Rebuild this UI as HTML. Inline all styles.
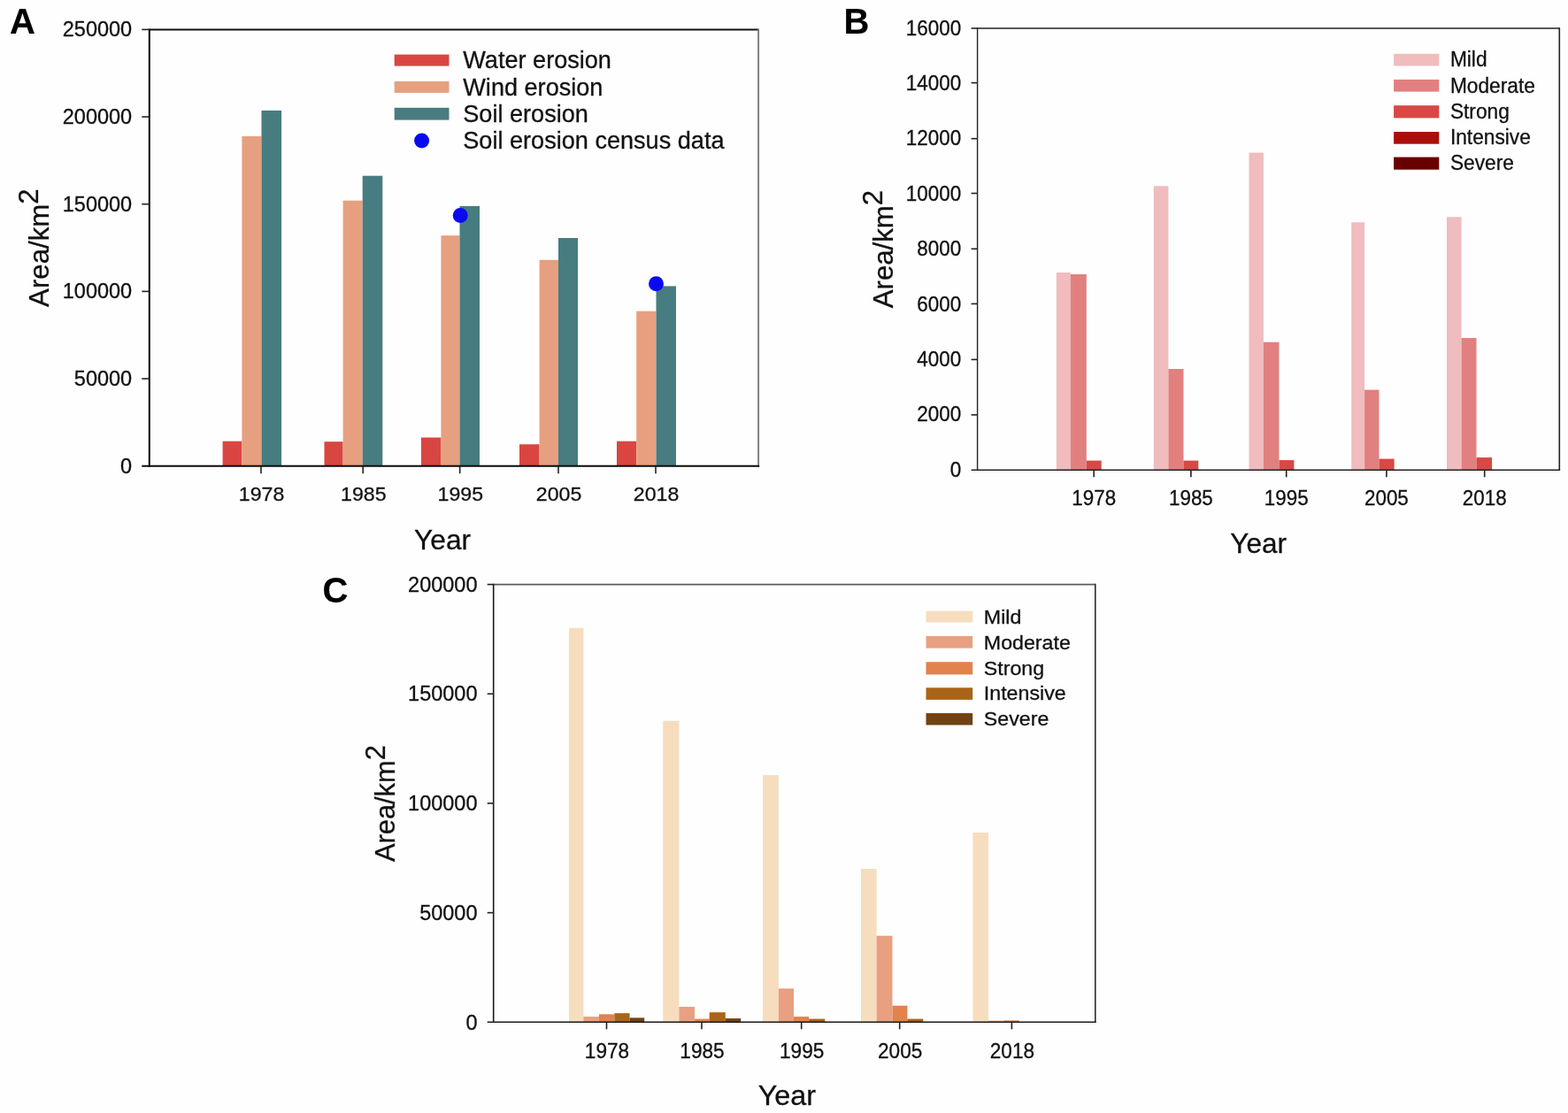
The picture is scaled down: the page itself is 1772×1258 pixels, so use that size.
<!DOCTYPE html>
<html lang="en"><head><meta charset="utf-8"><title>Soil erosion area by year</title>
<style>html,body{margin:0;padding:0;background:#fff;}body{width:1772px;height:1258px;overflow:hidden;}svg{display:block;filter:blur(0.45px);}svg text{font-family:'Liberation Sans', sans-serif;fill:#111;stroke:#111;stroke-width:0.3px;}</style></head><body>
<svg width="1772" height="1258" viewBox="0 0 1772 1258">
<rect x="0" y="0" width="1772" height="1258" fill="#fefefe"/>
<g id="panel-A">
<rect x="251.60" y="498.70" width="21.80" height="28.00" fill="#d94641"/>
<rect x="273.40" y="154.00" width="22.10" height="372.70" fill="#e6a080"/>
<rect x="295.50" y="124.90" width="22.60" height="401.80" fill="#477c80"/>
<rect x="366.50" y="499.20" width="21.10" height="27.50" fill="#d94641"/>
<rect x="387.60" y="226.70" width="22.10" height="300.00" fill="#e6a080"/>
<rect x="409.70" y="198.70" width="22.60" height="328.00" fill="#477c80"/>
<rect x="476.00" y="494.50" width="22.40" height="32.20" fill="#d94641"/>
<rect x="498.40" y="266.20" width="21.10" height="260.50" fill="#e6a080"/>
<rect x="519.50" y="232.90" width="22.50" height="293.80" fill="#477c80"/>
<rect x="587.00" y="502.20" width="22.60" height="24.50" fill="#d94641"/>
<rect x="609.60" y="293.80" width="21.40" height="232.90" fill="#e6a080"/>
<rect x="631.00" y="269.00" width="22.00" height="257.70" fill="#477c80"/>
<rect x="697.00" y="498.70" width="22.20" height="28.00" fill="#d94641"/>
<rect x="719.20" y="351.70" width="22.30" height="175.00" fill="#e6a080"/>
<rect x="741.50" y="323.40" width="22.50" height="203.30" fill="#477c80"/>
<circle cx="520.20" cy="243.40" r="8.5" fill="#0a0af0"/>
<circle cx="741.50" cy="320.70" r="8.5" fill="#0a0af0"/>
<line x1="168.80" y1="33.40" x2="857.10" y2="33.40" stroke="#111" stroke-width="2"/>
<line x1="857.10" y1="32.40" x2="857.10" y2="527.70" stroke="#808080" stroke-width="2"/>
<line x1="168.80" y1="32.40" x2="168.80" y2="527.70" stroke="#0a0a0a" stroke-width="2"/>
<line x1="160.30" y1="526.70" x2="858.10" y2="526.70" stroke="#0a0a0a" stroke-width="2"/>
<text x="149.20" y="534.50" font-size="23.5" text-anchor="end" font-weight="normal" >0</text>
<line x1="160.30" y1="428.04" x2="168.80" y2="428.04" stroke="#222" stroke-width="1.6"/>
<text x="149.20" y="435.84" font-size="23.5" text-anchor="end" font-weight="normal" >50000</text>
<line x1="160.30" y1="329.38" x2="168.80" y2="329.38" stroke="#222" stroke-width="1.6"/>
<text x="149.20" y="337.18" font-size="23.5" text-anchor="end" font-weight="normal" >100000</text>
<line x1="160.30" y1="230.72" x2="168.80" y2="230.72" stroke="#222" stroke-width="1.6"/>
<text x="149.20" y="238.52" font-size="23.5" text-anchor="end" font-weight="normal" >150000</text>
<line x1="160.30" y1="132.06" x2="168.80" y2="132.06" stroke="#222" stroke-width="1.6"/>
<text x="149.20" y="139.86" font-size="23.5" text-anchor="end" font-weight="normal" >200000</text>
<line x1="160.30" y1="33.40" x2="168.80" y2="33.40" stroke="#222" stroke-width="1.6"/>
<text x="149.20" y="41.20" font-size="23.5" text-anchor="end" font-weight="normal" >250000</text>
<line x1="295.00" y1="526.70" x2="295.00" y2="535.20" stroke="#222" stroke-width="1.6"/>
<text transform="translate(295.60,566.30) scale(1.02,1)" font-size="22.7" text-anchor="middle" font-weight="normal" >1978</text>
<line x1="410.20" y1="526.70" x2="410.20" y2="535.20" stroke="#222" stroke-width="1.6"/>
<text transform="translate(410.80,566.30) scale(1.02,1)" font-size="22.7" text-anchor="middle" font-weight="normal" >1985</text>
<line x1="519.70" y1="526.70" x2="519.70" y2="535.20" stroke="#222" stroke-width="1.6"/>
<text transform="translate(520.30,566.30) scale(1.02,1)" font-size="22.7" text-anchor="middle" font-weight="normal" >1995</text>
<line x1="631.00" y1="526.70" x2="631.00" y2="535.20" stroke="#222" stroke-width="1.6"/>
<text transform="translate(631.60,566.30) scale(1.02,1)" font-size="22.7" text-anchor="middle" font-weight="normal" >2005</text>
<line x1="741.00" y1="526.70" x2="741.00" y2="535.20" stroke="#222" stroke-width="1.6"/>
<text transform="translate(741.60,566.30) scale(1.02,1)" font-size="22.7" text-anchor="middle" font-weight="normal" >2018</text>
<rect x="445.70" y="61.60" width="61.80" height="13.00" fill="#d94641"/>
<text x="523.30" y="77.30" font-size="27.1" text-anchor="start" font-weight="normal" >Water erosion</text>
<rect x="445.70" y="91.90" width="61.80" height="13.00" fill="#e6a080"/>
<text x="523.30" y="107.60" font-size="27.1" text-anchor="start" font-weight="normal" >Wind erosion</text>
<rect x="445.70" y="121.80" width="61.80" height="13.80" fill="#477c80"/>
<text x="523.30" y="137.70" font-size="27.1" text-anchor="start" font-weight="normal" >Soil erosion</text>
<circle cx="476.60" cy="159.00" r="8.5" fill="#0a0af0"/>
<text x="523.30" y="167.90" font-size="27.1" text-anchor="start" font-weight="normal" >Soil erosion census data</text>
<text x="11.00" y="37.70" font-size="40" text-anchor="start" font-weight="bold" style="fill:#000;stroke:#000;stroke-width:0.15px">A</text>
<text transform="translate(54.90,346.90) rotate(-90)" font-size="31.2">Area/km<tspan dy="-11.7">2</tspan></text>
<text transform="translate(468.10,621.40) scale(1.015,1)" font-size="31.2" text-anchor="start" font-weight="normal" >Year</text>
</g>
<g id="panel-B">
<rect x="1193.80" y="308.00" width="16.10" height="223.30" fill="#f0bcbe"/>
<rect x="1209.90" y="310.00" width="17.90" height="221.30" fill="#e28080"/>
<rect x="1227.80" y="520.60" width="16.90" height="10.70" fill="#d94844"/>
<rect x="1303.80" y="210.30" width="16.60" height="321.00" fill="#f0bcbe"/>
<rect x="1320.40" y="417.00" width="17.10" height="114.30" fill="#e28080"/>
<rect x="1337.50" y="520.60" width="16.80" height="10.70" fill="#d94844"/>
<rect x="1411.50" y="172.60" width="16.40" height="358.70" fill="#f0bcbe"/>
<rect x="1427.90" y="386.70" width="17.60" height="144.60" fill="#e28080"/>
<rect x="1445.50" y="520.10" width="16.90" height="11.20" fill="#d94844"/>
<rect x="1527.20" y="251.30" width="14.90" height="280.00" fill="#f0bcbe"/>
<rect x="1542.10" y="440.60" width="16.40" height="90.70" fill="#e28080"/>
<rect x="1558.50" y="518.60" width="17.10" height="12.70" fill="#d94844"/>
<rect x="1635.00" y="245.30" width="16.60" height="286.00" fill="#f0bcbe"/>
<rect x="1651.60" y="382.00" width="16.90" height="149.30" fill="#e28080"/>
<rect x="1668.50" y="517.10" width="17.60" height="14.20" fill="#d94844"/>
<line x1="1104.60" y1="32.00" x2="1762.30" y2="32.00" stroke="#222" stroke-width="1.6"/>
<line x1="1762.30" y1="31.20" x2="1762.30" y2="532.10" stroke="#222" stroke-width="1.6"/>
<line x1="1104.60" y1="31.20" x2="1104.60" y2="532.10" stroke="#222" stroke-width="1.4"/>
<line x1="1097.60" y1="531.30" x2="1763.10" y2="531.30" stroke="#222" stroke-width="1.6"/>
<text transform="translate(1086.30,538.80) scale(0.965,1)" font-size="23.3" text-anchor="end" font-weight="normal" >0</text>
<line x1="1097.60" y1="468.90" x2="1104.60" y2="468.90" stroke="#222" stroke-width="1.6"/>
<text transform="translate(1086.30,476.39) scale(0.965,1)" font-size="23.3" text-anchor="end" font-weight="normal" >2000</text>
<line x1="1097.60" y1="406.40" x2="1104.60" y2="406.40" stroke="#222" stroke-width="1.6"/>
<text transform="translate(1086.30,413.97) scale(0.965,1)" font-size="23.3" text-anchor="end" font-weight="normal" >4000</text>
<line x1="1097.60" y1="343.40" x2="1104.60" y2="343.40" stroke="#222" stroke-width="1.6"/>
<text transform="translate(1086.30,351.56) scale(0.965,1)" font-size="23.3" text-anchor="end" font-weight="normal" >6000</text>
<line x1="1097.60" y1="281.30" x2="1104.60" y2="281.30" stroke="#222" stroke-width="1.6"/>
<text transform="translate(1086.30,289.15) scale(0.965,1)" font-size="23.3" text-anchor="end" font-weight="normal" >8000</text>
<line x1="1097.60" y1="218.50" x2="1104.60" y2="218.50" stroke="#222" stroke-width="1.6"/>
<text transform="translate(1086.30,226.74) scale(0.965,1)" font-size="23.3" text-anchor="end" font-weight="normal" >10000</text>
<line x1="1097.60" y1="156.70" x2="1104.60" y2="156.70" stroke="#222" stroke-width="1.6"/>
<text transform="translate(1086.30,164.32) scale(0.965,1)" font-size="23.3" text-anchor="end" font-weight="normal" >12000</text>
<line x1="1097.60" y1="93.60" x2="1104.60" y2="93.60" stroke="#222" stroke-width="1.6"/>
<text transform="translate(1086.30,101.91) scale(0.965,1)" font-size="23.3" text-anchor="end" font-weight="normal" >14000</text>
<line x1="1097.60" y1="32.00" x2="1104.60" y2="32.00" stroke="#222" stroke-width="1.6"/>
<text transform="translate(1086.30,39.50) scale(0.965,1)" font-size="23.3" text-anchor="end" font-weight="normal" >16000</text>
<line x1="1236.20" y1="531.30" x2="1236.20" y2="539.30" stroke="#222" stroke-width="1.6"/>
<text transform="translate(1236.20,571.10) scale(0.965,1)" font-size="23.2" text-anchor="middle" font-weight="normal" >1978</text>
<line x1="1345.90" y1="531.30" x2="1345.90" y2="539.30" stroke="#222" stroke-width="1.6"/>
<text transform="translate(1345.90,571.10) scale(0.965,1)" font-size="23.2" text-anchor="middle" font-weight="normal" >1985</text>
<line x1="1453.70" y1="531.30" x2="1453.70" y2="539.30" stroke="#222" stroke-width="1.6"/>
<text transform="translate(1453.70,571.10) scale(0.965,1)" font-size="23.2" text-anchor="middle" font-weight="normal" >1995</text>
<line x1="1566.90" y1="531.30" x2="1566.90" y2="539.30" stroke="#222" stroke-width="1.6"/>
<text transform="translate(1566.90,571.10) scale(0.965,1)" font-size="23.2" text-anchor="middle" font-weight="normal" >2005</text>
<line x1="1677.70" y1="531.30" x2="1677.70" y2="539.30" stroke="#222" stroke-width="1.6"/>
<text transform="translate(1677.70,571.10) scale(0.965,1)" font-size="23.2" text-anchor="middle" font-weight="normal" >2018</text>
<rect x="1575.10" y="60.80" width="51.20" height="13.70" fill="#f0bcbe"/>
<text transform="translate(1638.90,75.40) scale(0.975,1)" font-size="23.3" text-anchor="start" font-weight="normal" >Mild</text>
<rect x="1575.10" y="89.90" width="51.20" height="13.70" fill="#e28080"/>
<text transform="translate(1638.90,104.50) scale(0.975,1)" font-size="23.3" text-anchor="start" font-weight="normal" >Moderate</text>
<rect x="1575.10" y="119.20" width="51.20" height="14.20" fill="#d94844"/>
<text transform="translate(1638.90,133.80) scale(0.975,1)" font-size="23.3" text-anchor="start" font-weight="normal" >Strong</text>
<rect x="1575.10" y="149.00" width="51.20" height="13.70" fill="#aa0f0a"/>
<text transform="translate(1638.90,163.10) scale(0.975,1)" font-size="23.3" text-anchor="start" font-weight="normal" >Intensive</text>
<rect x="1575.10" y="177.60" width="51.20" height="14.10" fill="#690000"/>
<text transform="translate(1638.90,192.20) scale(0.975,1)" font-size="23.3" text-anchor="start" font-weight="normal" >Severe</text>
<text x="953.60" y="37.70" font-size="40" text-anchor="start" font-weight="bold" style="fill:#000;stroke:#000;stroke-width:0.15px">B</text>
<text transform="translate(1008.80,348.30) rotate(-90)" font-size="31.2">Area/km<tspan dy="-11.7">2</tspan></text>
<text x="1390.30" y="625.30" font-size="31.5" text-anchor="start" font-weight="normal" >Year</text>
</g>
<g id="panel-C">
<rect x="643.00" y="709.70" width="16.40" height="445.60" fill="#f6ddbe"/>
<rect x="659.40" y="1149.10" width="17.60" height="6.20" fill="#e8a080"/>
<rect x="677.00" y="1146.40" width="17.40" height="8.90" fill="#e2824c"/>
<rect x="694.40" y="1145.20" width="17.20" height="10.10" fill="#aa6419"/>
<rect x="711.60" y="1150.40" width="16.60" height="4.90" fill="#704214"/>
<rect x="749.30" y="814.80" width="18.10" height="340.50" fill="#f6ddbe"/>
<rect x="767.40" y="1138.00" width="17.70" height="17.30" fill="#e8a080"/>
<rect x="785.10" y="1151.60" width="16.60" height="3.70" fill="#e2824c"/>
<rect x="801.70" y="1144.20" width="18.10" height="11.10" fill="#aa6419"/>
<rect x="819.80" y="1151.10" width="17.40" height="4.20" fill="#704214"/>
<rect x="862.00" y="876.10" width="17.90" height="279.20" fill="#f6ddbe"/>
<rect x="879.90" y="1117.30" width="17.10" height="38.00" fill="#e8a080"/>
<rect x="897.00" y="1149.10" width="17.20" height="6.20" fill="#e2824c"/>
<rect x="914.20" y="1151.60" width="18.10" height="3.70" fill="#aa6419"/>
<rect x="973.00" y="982.00" width="17.60" height="173.30" fill="#f6ddbe"/>
<rect x="990.60" y="1057.70" width="17.90" height="97.60" fill="#e8a080"/>
<rect x="1008.50" y="1136.70" width="16.90" height="18.60" fill="#e2824c"/>
<rect x="1025.40" y="1151.60" width="17.90" height="3.70" fill="#aa6419"/>
<rect x="1099.40" y="941.00" width="17.60" height="214.30" fill="#f6ddbe"/>
<rect x="1117.00" y="1153.60" width="17.50" height="1.70" fill="#e8a080"/>
<rect x="1134.50" y="1153.30" width="17.30" height="2.00" fill="#e2824c"/>
<line x1="557.70" y1="660.60" x2="1237.80" y2="660.60" stroke="#5a5a5a" stroke-width="1.6"/>
<line x1="1237.80" y1="659.80" x2="1237.80" y2="1156.10" stroke="#2a2a2a" stroke-width="1.6"/>
<line x1="557.70" y1="659.80" x2="557.70" y2="1156.10" stroke="#1a1a1a" stroke-width="1.6"/>
<line x1="550.70" y1="1155.30" x2="1238.60" y2="1155.30" stroke="#1a1a1a" stroke-width="1.6"/>
<text x="539.50" y="1163.50" font-size="23.5" text-anchor="end" font-weight="normal" >0</text>
<line x1="550.70" y1="1031.62" x2="557.70" y2="1031.62" stroke="#222" stroke-width="1.6"/>
<text x="539.50" y="1039.83" font-size="23.5" text-anchor="end" font-weight="normal" >50000</text>
<line x1="550.70" y1="907.95" x2="557.70" y2="907.95" stroke="#222" stroke-width="1.6"/>
<text x="539.50" y="916.15" font-size="23.5" text-anchor="end" font-weight="normal" >100000</text>
<line x1="550.70" y1="784.27" x2="557.70" y2="784.27" stroke="#222" stroke-width="1.6"/>
<text x="539.50" y="792.48" font-size="23.5" text-anchor="end" font-weight="normal" >150000</text>
<line x1="550.70" y1="660.60" x2="557.70" y2="660.60" stroke="#222" stroke-width="1.6"/>
<text x="539.50" y="668.80" font-size="23.5" text-anchor="end" font-weight="normal" >200000</text>
<line x1="685.50" y1="1155.30" x2="685.50" y2="1163.30" stroke="#222" stroke-width="1.6"/>
<text transform="translate(686.00,1195.50) scale(0.975,1)" font-size="23.2" text-anchor="middle" font-weight="normal" >1978</text>
<line x1="793.00" y1="1155.30" x2="793.00" y2="1163.30" stroke="#222" stroke-width="1.6"/>
<text transform="translate(793.50,1195.50) scale(0.975,1)" font-size="23.2" text-anchor="middle" font-weight="normal" >1985</text>
<line x1="905.70" y1="1155.30" x2="905.70" y2="1163.30" stroke="#222" stroke-width="1.6"/>
<text transform="translate(906.20,1195.50) scale(0.975,1)" font-size="23.2" text-anchor="middle" font-weight="normal" >1995</text>
<line x1="1016.70" y1="1155.30" x2="1016.70" y2="1163.30" stroke="#222" stroke-width="1.6"/>
<text transform="translate(1017.20,1195.50) scale(0.975,1)" font-size="23.2" text-anchor="middle" font-weight="normal" >2005</text>
<line x1="1143.40" y1="1155.30" x2="1143.40" y2="1163.30" stroke="#222" stroke-width="1.6"/>
<text transform="translate(1143.90,1195.50) scale(0.975,1)" font-size="23.2" text-anchor="middle" font-weight="normal" >2018</text>
<rect x="1046.50" y="690.60" width="52.70" height="12.90" fill="#f6ddbe"/>
<text transform="translate(1111.80,704.50) scale(1.055,1)" font-size="22.0" text-anchor="start" font-weight="normal" >Mild</text>
<rect x="1046.50" y="718.90" width="52.70" height="13.70" fill="#e8a080"/>
<text transform="translate(1111.80,733.50) scale(1.055,1)" font-size="22.0" text-anchor="start" font-weight="normal" >Moderate</text>
<rect x="1046.50" y="748.20" width="52.70" height="14.20" fill="#e2824c"/>
<text transform="translate(1111.80,762.80) scale(1.055,1)" font-size="22.0" text-anchor="start" font-weight="normal" >Strong</text>
<rect x="1046.50" y="777.30" width="52.70" height="13.60" fill="#aa6419"/>
<text transform="translate(1111.80,791.40) scale(1.055,1)" font-size="22.0" text-anchor="start" font-weight="normal" >Intensive</text>
<rect x="1046.50" y="806.10" width="52.70" height="13.40" fill="#704214"/>
<text transform="translate(1111.80,819.90) scale(1.055,1)" font-size="22.0" text-anchor="start" font-weight="normal" >Severe</text>
<text x="364.60" y="681.40" font-size="40" text-anchor="start" font-weight="bold" style="fill:#000;stroke:#000;stroke-width:0.15px">C</text>
<text transform="translate(446.40,974.00) rotate(-90)" font-size="30.8">Area/km<tspan dy="-11.5">2</tspan></text>
<text transform="translate(856.70,1249.00) scale(1.045,1)" font-size="31.0" text-anchor="start" font-weight="normal" >Year</text>
</g>
</svg></body></html>
